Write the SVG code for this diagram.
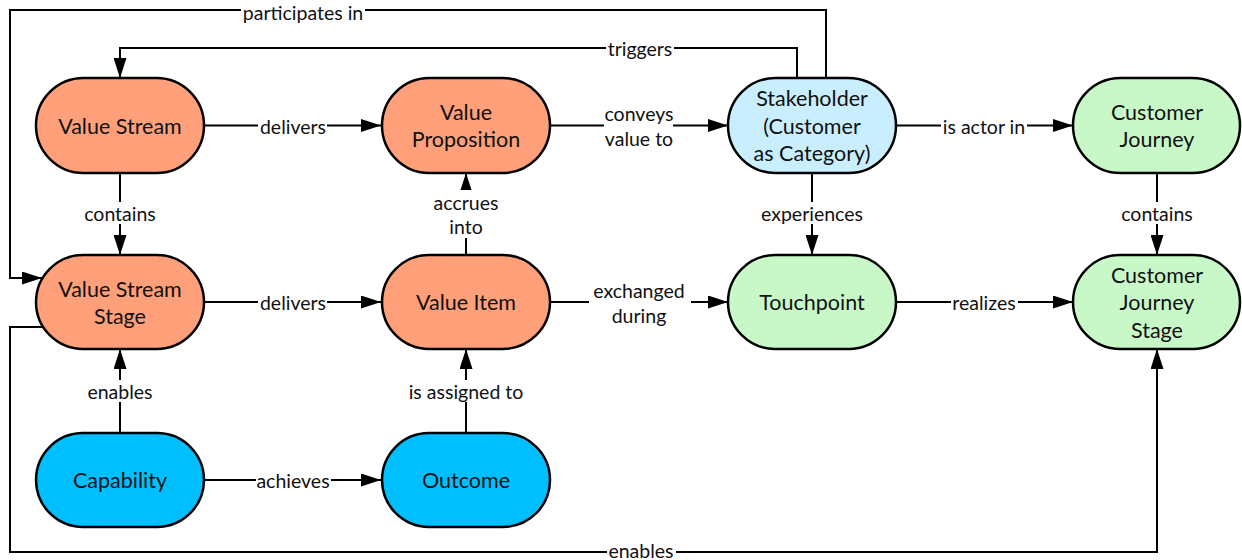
<svg xmlns="http://www.w3.org/2000/svg" width="1242" height="560" viewBox="0 0 1242 560">
  <style>
    .node rect { stroke: #000; stroke-width: 2.5; }
    .vs rect { fill: #FFA07A; }
    .sh rect { fill: #C9EEFF; }
    .cj rect { fill: #C8F8C8; }
    .cap rect { fill: #00BFFF; }
    .node text { font-family: Lato, "Liberation Sans", sans-serif; font-size: 21.5px; fill: #111; text-anchor: middle; dominant-baseline: central; }
    .conn path { fill: none; stroke: #000; stroke-width: 2; }
    .lbl rect { fill: #fff; stroke: none; }
    .lbl text { font-family: Lato, "Liberation Sans", sans-serif; font-size: 19.5px; fill: #111; text-anchor: middle; dominant-baseline: central; }
  </style>
  <defs>
    <marker id="arrow" markerUnits="userSpaceOnUse" markerWidth="20" markerHeight="13" refX="20" refY="6.5" orient="auto">
      <path d="M0,0 L20,6.5 L0,13 Z" fill="#000"/>
    </marker>
  </defs>
  <rect width="1242" height="560" fill="#fff"/>

  <!-- connectors -->
  <g id="connectors" class="conn">
    <path d="M826,78 V10 H10 V278 H42" marker-end="url(#arrow)"/>
    <path d="M797,78 V48 H120 V78" marker-end="url(#arrow)"/>
    <path d="M204,125.5 H381" marker-end="url(#arrow)"/>
    <path d="M550,125.5 H728" marker-end="url(#arrow)"/>
    <path d="M896,125.5 H1073" marker-end="url(#arrow)"/>
    <path d="M120,173 V255" marker-end="url(#arrow)"/>
    <path d="M466,255 V173" marker-end="url(#arrow)"/>
    <path d="M812,173 V255" marker-end="url(#arrow)"/>
    <path d="M1157,173 V255" marker-end="url(#arrow)"/>
    <path d="M204,302 H381" marker-end="url(#arrow)"/>
    <path d="M550,302 H728" marker-end="url(#arrow)"/>
    <path d="M896,302 H1073" marker-end="url(#arrow)"/>
    <path d="M120,433 V349" marker-end="url(#arrow)"/>
    <path d="M466,433 V349" marker-end="url(#arrow)"/>
    <path d="M204,480 H381" marker-end="url(#arrow)"/>
    <path d="M44,327 H10 V552 H1157 V349" marker-end="url(#arrow)"/>
  </g>

  <!-- connector labels -->
  <g id="labels" class="lbl">
    <rect x="241" y="2" width="124" height="20"/><text x="303" y="12">participates in</text>
    <rect x="606" y="38" width="68" height="20"/><text x="640" y="48">triggers</text>
    <rect x="258" y="116" width="69" height="20"/><text x="293" y="126">delivers</text>
    <rect x="604" y="101" width="69" height="50"/><text x="639" y="113">conveys</text><text x="639" y="138">value to</text>
    <rect x="941" y="116" width="86" height="20"/><text x="984" y="126">is actor in</text>
    <rect x="78" y="202" width="84" height="22"/><text x="120" y="213">contains</text>
    <rect x="428" y="190" width="76" height="48"/><text x="466" y="202">accrues</text><text x="466" y="226">into</text>
    <rect x="758" y="202" width="108" height="22"/><text x="812" y="213">experiences</text>
    <rect x="1115" y="202" width="84" height="22"/><text x="1157" y="213">contains</text>
    <rect x="258" y="292" width="69" height="20"/><text x="293" y="302">delivers</text>
    <rect x="589" y="278" width="102" height="50"/><text x="639" y="290">exchanged</text><text x="639" y="315">during</text>
    <rect x="951" y="292" width="67" height="20"/><text x="984" y="302">realizes</text>
    <rect x="85" y="380" width="70" height="22"/><text x="120" y="391">enables</text>
    <rect x="404" y="380" width="124" height="22"/><text x="466" y="391">is assigned to</text>
    <rect x="256" y="470" width="75" height="20"/><text x="293" y="480">achieves</text>
    <rect x="607" y="542" width="69" height="18"/><text x="641" y="550">enables</text>
  </g>

  <!-- nodes -->
  <g id="value-stream" class="node vs">
    <rect x="36" y="78" width="168" height="95" rx="47.5"/>
    <text x="120" y="125.5">Value Stream</text>
  </g>
  <g id="value-proposition" class="node vs">
    <rect x="382" y="78" width="168" height="95" rx="47.5"/>
    <text x="466" y="112">Value</text>
    <text x="466" y="139">Proposition</text>
  </g>
  <g id="stakeholder" class="node sh">
    <rect x="728" y="78" width="168" height="95" rx="47.5"/>
    <text x="812" y="98">Stakeholder</text>
    <text x="812" y="125.5">(Customer</text>
    <text x="812" y="153">as Category)</text>
  </g>
  <g id="customer-journey" class="node cj">
    <rect x="1073" y="78" width="167" height="95" rx="47.5"/>
    <text x="1157" y="112">Customer</text>
    <text x="1157" y="139">Journey</text>
  </g>
  <g id="value-stream-stage" class="node vs">
    <rect x="36" y="255" width="168" height="94" rx="47"/>
    <text x="120" y="289">Value Stream</text>
    <text x="120" y="316">Stage</text>
  </g>
  <g id="value-item" class="node vs">
    <rect x="382" y="255" width="168" height="94" rx="47"/>
    <text x="466" y="302">Value Item</text>
  </g>
  <g id="touchpoint" class="node cj">
    <rect x="728" y="255" width="168" height="94" rx="47"/>
    <text x="812" y="302">Touchpoint</text>
  </g>
  <g id="customer-journey-stage" class="node cj">
    <rect x="1073" y="255" width="167" height="94" rx="47"/>
    <text x="1157" y="275">Customer</text>
    <text x="1157" y="302">Journey</text>
    <text x="1157" y="330">Stage</text>
  </g>
  <g id="capability" class="node cap">
    <rect x="36" y="433" width="168" height="94" rx="47"/>
    <text x="120" y="480">Capability</text>
  </g>
  <g id="outcome" class="node cap">
    <rect x="382" y="433" width="168" height="94" rx="47"/>
    <text x="466" y="480">Outcome</text>
  </g>
</svg>
